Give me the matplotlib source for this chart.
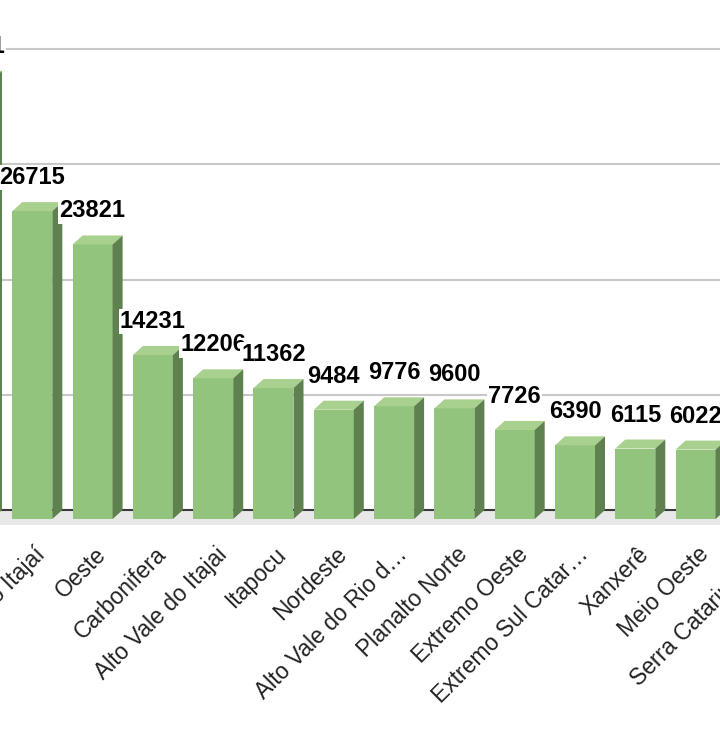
import matplotlib.pyplot as plt
from matplotlib.patches import Polygon

regioes = ["Grande Florianópolis", "Foz do Rio Itajaí", "Oeste", "Carbonifera",
           "Alto Vale do Itajai", "Itapocu", "Nordeste", "Alto Vale do Rio d…",
           "Planalto Norte", "Extremo Oeste", "Extremo Sul Catar…", "Xanxerê",
           "Meio Oeste", "Serra Catarinense"]
valores = [38101, 26715, 23821, 14231, 12206, 11362, 9484, 9776, 9600, 7726,
           6390, 6115, 6022, 5800]
grade = [10000, 20000, 30000, 40000]

W, H = 720, 742
fig = plt.figure(figsize=(W / 100, H / 100), dpi=100)

# pixel geometry of the (cropped) 3D chart
px_cat = 60.3          # pixels per category
x0_px = -28            # pixel x of first bar centre
k = 0.011525           # pixels per unit
base_px = 510          # back-wall baseline (from top)
xlim = (-0.7, 13.7)
ylim = (-1500, 45000)
left = (x0_px + px_cat * xlim[0]) / W
width = px_cat * (xlim[1] - xlim[0]) / W
top_px = base_px - ylim[1] * k
bot_px = base_px - ylim[0] * k
ax = fig.add_axes([left, (H - bot_px) / H, width, (bot_px - top_px) / H])
ax.set_xlim(xlim)
ax.set_ylim(ylim)
ax.axis("off")

dx = 10 / px_cat      # depth offset in x
oy = 9 / k            # depth offset in y
w = 40 / px_cat

# back wall grid, floor and baseline
for g in grade:
    ax.axhline(g, color="#c8c8c8", lw=1.5, zorder=0)
ax.axhspan(-15 / k, 0, color="#e8e8e8", lw=0, zorder=0)
ax.axhline(0, color="#3a3a3a", lw=1.5, zorder=1)

front_c, top_c, side_c = "#93c47d", "#a8d08e", "#5f804f"
pos = list(range(len(valores)))
ax.bar(pos, valores, width=w, bottom=-oy, color=front_c, zorder=3)
for i, v in zip(pos, valores):
    l, r = i - w / 2, i + w / 2
    ax.add_patch(Polygon([(l, v - oy), (r, v - oy), (r + dx, v), (l + dx, v)],
                         closed=True, color=top_c, zorder=3, lw=0))
    ax.add_patch(Polygon([(r, -oy), (r + dx, 0), (r + dx, v), (r, v - oy)],
                         closed=True, color=side_c, zorder=3, lw=0))

for i, v in zip(pos, valores):
    ax.annotate(str(v), (i, v), xytext=(0, 18), textcoords="offset pixels",
                ha="center", va="baseline", fontsize=17, fontweight="bold",
                family="Liberation Sans", color="black", zorder=5 + i,
                bbox=dict(boxstyle="square,pad=0.05", fc="white", ec="none"))

for i, nome in zip(pos, regioes):
    ax.text(i + 18 / px_cat, -2850, nome, rotation=45, ha="right", va="top",
            fontsize=16.5, family="Liberation Sans", color="#222222",
            clip_on=False)

fig.savefig("out.png", dpi=100, facecolor="white")
